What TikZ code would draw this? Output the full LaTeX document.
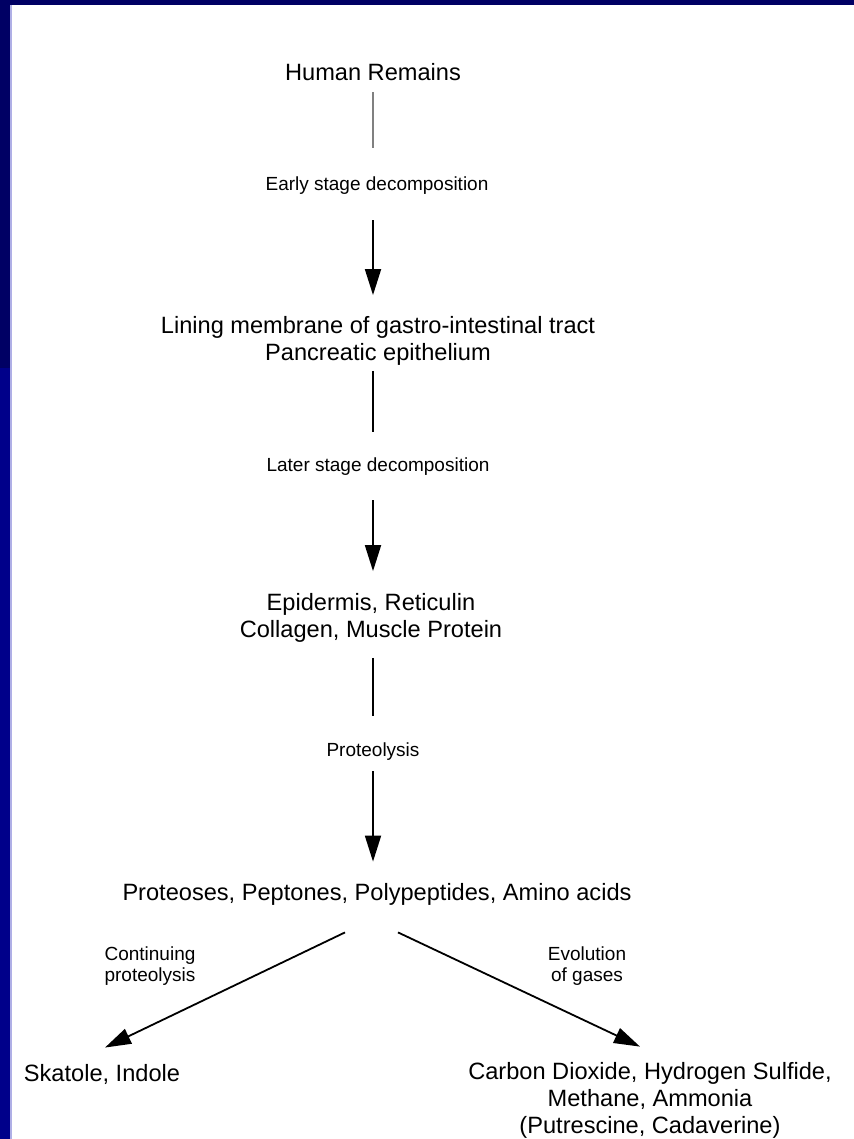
\documentclass[tikz,border=0pt]{standalone}
\usepackage{fontspec}
\setmainfont{Liberation Sans}
\usetikzlibrary{arrows.meta,calc}
\definecolor{navytop}{RGB}{0,0,100}
\definecolor{navylow}{RGB}{0,0,138}
\definecolor{rimline}{RGB}{175,175,230}

\begin{document}
\begin{tikzpicture}[
  x=0.5pt, y=-0.5pt,
  stage/.style={font=\fontsize{11.8}{13.5}\selectfont, align=center, inner sep=0pt},
  proc/.style={font=\fontsize{9.5}{10.5}\selectfont, align=center, inner sep=0pt},
  link/.style={line width=0.8pt},
  arr/.style={line width=0.9pt, -{Triangle[length=13pt,width=8pt]}}
]
% frame
\fill[navylow] (0,0) rectangle (854,1139);
\fill[navytop] (0,0) rectangle (854,368);
\fill[white] (10,5) rectangle (854,1139);
\fill[rimline] (10,5) rectangle (11.5,1139);
\useasboundingbox (0,0) rectangle (854,1139);

\node[stage] (remains) at (373,72) {Human Remains};
\node[proc] (early) at (377,186) {Early stage decomposition};
\node[stage] (lining) at (378,341) {Lining membrane of gastro-intestinal tract\\Pancreatic epithelium};
\node[proc] (later) at (378,467) {Later stage decomposition};
\node[stage] (epi) at (371,618) {Epidermis, Reticulin\\Collagen, Muscle Protein};
\node[proc] (prolys) at (373,752) {Proteolysis};
\node[stage] (prot) at (377,894) {Proteoses, Peptones, Polypeptides, Amino acids};

\node[proc] (cont) at (150,966) {Continuing\\proteolysis};
\node[proc] (evol) at (587,966) {Evolution\\of gases};

\node[stage] (skat) at (102,1074) {Skatole, Indole};
\node[stage] (gases) at (650,1100) {Carbon Dioxide, Hydrogen Sulfide,\\Methane, Ammonia\\(Putrescine, Cadaverine)};

% main column
\draw[link, gray, shorten <=5.5pt, shorten >=14.5pt] (remains.south) -- (remains.south |- early.north);
\draw[arr, shorten <=12.5pt, shorten >=10.5pt] (remains.south |- early.south) -- (remains.south |- lining.north);
\draw[link, shorten <=2.5pt, shorten >=13pt] (remains.south |- lining.south) -- (remains.south |- later.north);
\draw[arr, shorten <=12pt, shorten >=11pt] (remains.south |- later.south) -- (remains.south |- epi.north);
\draw[link, shorten <=7.5pt, shorten >=13.5pt] (remains.south |- epi.south) -- (remains.south |- prolys.north);
\draw[arr, shorten <=5pt, shorten >=10.5pt] (remains.south |- prolys.south) -- (remains.south |- prot.north);

% split
\draw[arr] ($(prot.south)+(-32,27)$) -- ($(skat.north)+(3,-16)$);
\draw[arr] ($(prot.south)+(21,27)$) -- ($(gases.north)+(-10,-15)$);
\end{tikzpicture}
\end{document}
